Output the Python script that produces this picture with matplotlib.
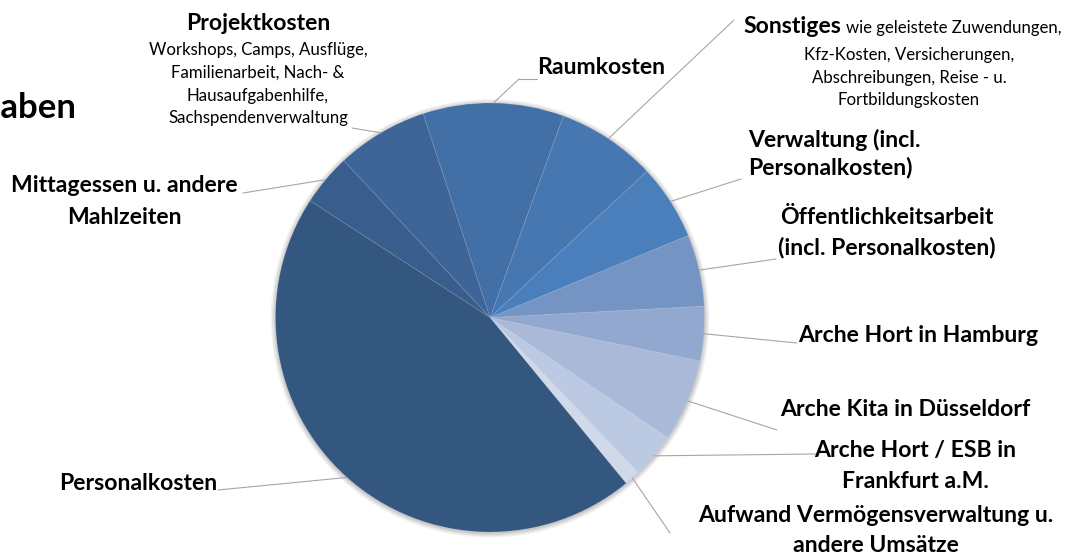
import numpy as np
import matplotlib
matplotlib.use("Agg")
import matplotlib.pyplot as plt
from matplotlib.patches import Circle

plt.rcParams['font.family'] = ['Lato', 'DejaVu Sans']

# Anteile in % (gegen den Uhrzeigersinn, ab "Aufwand")
kategorien = ['Aufwand', 'Frankfurt', 'Kita', 'Hamburg', 'Oeffentlichkeit', 'Verwaltung',
              'Sonstiges', 'Raumkosten', 'Projektkosten', 'Mittagessen', 'Personalkosten']
anteile = [1.2, 3.4, 6.2, 4.1, 5.4, 5.7, 7.5, 10.6, 6.9, 3.9, 45.1]
farben = ['#cfd9ea', '#bcc9e2', '#aab9d8', '#93a8cf', '#7495c4', '#4b7fbc',
          '#4677b1', '#426fa5', '#3d6598', '#395d8c', '#34577f']

W, H = 1073, 555
fig = plt.figure(figsize=(W / 100, H / 100), dpi=100)

# Kreis: Mittelpunkt (490, 317.5) px, Radius 214.5 px
cx, cy, r = 490, 317.5, 214.5
ax = fig.add_axes([(cx - r) / W, (H - cy - r) / H, 2 * r / W, 2 * r / H])

# weicher Schatten
for i, a in enumerate([0.05, 0.05, 0.06, 0.07]):
    ax.add_patch(Circle((0, -0.004), 1.022 - i * 0.006, color='black', alpha=a,
                        lw=0, zorder=0, clip_on=False))

wedges, _ = ax.pie(anteile, colors=farben, startangle=-50.6, counterclock=True,
                   wedgeprops=dict(edgecolor=(1, 1, 1, 0.12), linewidth=0.6))
ax.set_xlim(-1, 1)
ax.set_ylim(-1, 1)
ax.set_aspect('equal')
ax.axis('off')

def px(x, y):
    return x / W, 1 - y / H

# Endpunkte der Verbindungslinien (px, von oben)
linien_ende = {
    'Aufwand': (670, 533), 'Frankfurt': (817, 454), 'Kita': (777, 430),
    'Hamburg': (797, 343), 'Oeffentlichkeit': (776, 259), 'Verwaltung': (741, 179),
    'Sonstiges': (734, 20), 'Raumkosten': (519, 79), 'Projektkosten': (352, 128),
    'Mittagessen': (243, 193), 'Personalkosten': (218, 490),
}

for w, k in zip(wedges, kategorien):
    th = np.deg2rad((w.theta1 + w.theta2) / 2)
    ex, ey = linien_ende[k]
    ax.annotate('', xy=(np.cos(th), np.sin(th)), xycoords='data',
                xytext=px(ex, ey), textcoords='figure fraction',
                arrowprops=dict(arrowstyle='-', color='#a6a6a6', lw=0.8,
                                shrinkA=0, shrinkB=0))

# Verbindungslinie Raumkosten: kurzes waagrechtes Stueck
fig.add_artist(plt.Line2D([519 / W, 537 / W], [1 - 79 / H, 1 - 79 / H],
                          color='#a6a6a6', lw=0.8))

B = 16.6   # fette Beschriftung
N = 12.1   # normale Beschriftung

def t(x, y, s, size=B, weight='bold', ha='center', va='center'):
    fig.text(*px(x, y), s, fontsize=size, fontweight=weight, ha=ha, va=va, color='black')

# Titel (links angeschnitten)
t(76, 108, 'Ausgaben', size=25, ha='right')

t(258, 23, 'Projektkosten')
for y, s in zip([50, 73, 96, 118], ['Workshops, Camps, Ausflüge,', 'Familienarbeit, Nach- &',
                                    'Hausaufgabenhilfe,', 'Sachspendenverwaltung']):
    t(258, y, s, size=N, weight='normal')

t(124, 186, 'Mittagessen u. andere')
t(124, 217, 'Mahlzeiten')
t(138, 484, 'Personalkosten')
t(537, 68, 'Raumkosten', ha='left')

t(743, 33, 'Sonstiges', ha='left', va='baseline')
t(846, 33, 'wie geleistete Zuwendungen,', size=N, weight='normal', ha='left', va='baseline')
for y, s in zip([55, 78, 100], ['Kfz-Kosten, Versicherungen,', 'Abschreibungen, Reise - u.',
                                'Fortbildungskosten']):
    t(909, y, s, size=N, weight='normal')

t(748, 140, 'Verwaltung (incl.', ha='left')
t(748, 168, 'Personalkosten)', ha='left')
t(887, 218, 'Öffentlichkeitsarbeit')
t(887, 248, '(incl. Personalkosten)')
t(798, 335, 'Arche Hort in Hamburg', ha='left')
t(905, 410, 'Arche Kita in Düsseldorf')
t(915, 451, 'Arche Hort / ESB in')
t(915, 482, 'Frankfurt a.M.')
t(876, 516, 'Aufwand Vermögensverwaltung u.')
t(876, 546, 'andere Umsätze')

fig.savefig('out.png', dpi=100, facecolor='white')
